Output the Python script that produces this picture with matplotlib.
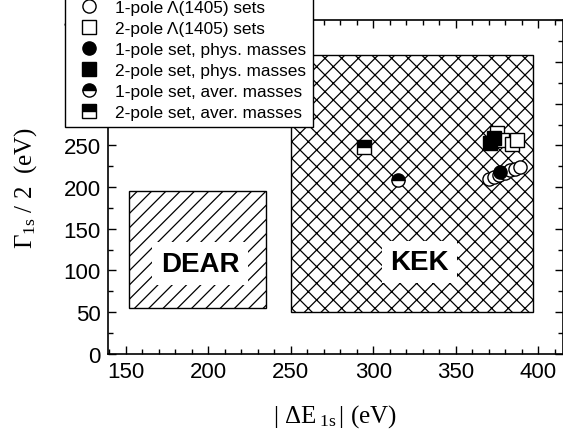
import matplotlib
matplotlib.use("Agg")
import matplotlib.pyplot as plt
from matplotlib.patches import Rectangle
from matplotlib.lines import Line2D
from matplotlib.backend_bases import GraphicsContextBase

plt.rcParams['font.family'] = ['Liberation Sans', 'DejaVu Sans']
plt.rcParams['mathtext.fontset'] = 'custom'
plt.rcParams['mathtext.rm'] = 'Liberation Serif'
plt.rcParams['mathtext.it'] = 'Liberation Serif:italic'
plt.rcParams['hatch.linewidth'] = 0.9

# slightly denser single-direction hatch for the DEAR box
_orig_hatch = GraphicsContextBase.get_hatch_path
def _hatch_path(self, density=6.0):
    if self.get_hatch() == '//':
        density = 7.6
    return _orig_hatch(self, density)
GraphicsContextBase.get_hatch_path = _hatch_path

# Experimental regions (x0, x1, y0, y1)
dear_box = [152, 235, 55, 195]
kek_box = [250, 397, 50, 358]

# Data points
onepole_open_x = [370, 373, 376, 380, 383, 386, 389]
onepole_open_y = [210, 212, 214, 217, 220, 222, 224]
twopole_open_x = [375, 378, 384, 387]
twopole_open_y = [265, 256, 252, 257]
onepole_phys_x = [377]
onepole_phys_y = [218]
twopole_phys_x = [371, 373]
twopole_phys_y = [253, 259]
onepole_aver_x = [315]
onepole_aver_y = [208]
twopole_aver_x = [294.5]
twopole_aver_y = [248]

legend_labels = ["1-pole \u039b(1405) sets", "2-pole \u039b(1405) sets",
                 "1-pole set, phys. masses", "2-pole set, phys. masses",
                 "1-pole set, aver. masses", "2-pole set, aver. masses"]

fig = plt.figure(figsize=(5.63, 4.35), dpi=100)
ax = fig.add_axes([0.1913, 0.1846, 0.8087, 0.766])

ax.add_patch(Rectangle((dear_box[0], dear_box[2]), dear_box[1]-dear_box[0], dear_box[3]-dear_box[2],
                       facecolor='white', edgecolor='black', hatch='//', lw=1.0, zorder=1))
ax.add_patch(Rectangle((kek_box[0], kek_box[2]), kek_box[1]-kek_box[0], kek_box[3]-kek_box[2],
                       facecolor='white', edgecolor='black', hatch='xx', lw=1.0, zorder=1))

bbox = dict(facecolor='white', edgecolor='none', pad=6)
ax.text(195, 108, "DEAR", fontsize=20, fontweight='bold', ha='center', va='center', bbox=bbox, zorder=2)
ax.text(328, 110, "KEK", fontsize=20, fontweight='bold', ha='center', va='center', bbox=bbox, zorder=2)

ms = 9.5
ax.plot(onepole_open_x, onepole_open_y, 'o', ms=ms, mfc='white', mec='black', mew=1.0, zorder=3)
ax.plot(twopole_open_x, twopole_open_y, 's', ms=ms, mfc='white', mec='black', mew=1.0, zorder=3)
ax.plot(twopole_phys_x, twopole_phys_y, 's', ms=ms, mfc='black', mec='black', mew=1.0, zorder=4)
ax.plot(onepole_phys_x, onepole_phys_y, 'o', ms=ms, mfc='black', mec='black', mew=1.0, zorder=4)
ax.plot(onepole_aver_x, onepole_aver_y, 'o', ms=ms, mfc='black', mfcalt='white', fillstyle='top',
        mec='black', mew=1.0, zorder=4)
ax.plot(twopole_aver_x, twopole_aver_y, 's', ms=ms, mfc='black', mfcalt='white', fillstyle='top',
        mec='black', mew=1.0, zorder=4)

ax.set_xlim(139, 415)
ax.set_ylim(0, 400)
ax.set_xticks([150, 200, 250, 300, 350, 400])
ax.set_xticks(range(140, 416, 10), minor=True)
ax.set_yticks(range(0, 401, 50))
ax.set_yticks(range(0, 401, 25), minor=True)
ax.tick_params(which='both', direction='in', top=True, right=True, labelsize=16, width=1.0)
ax.tick_params(which='major', length=6, pad=5)
ax.tick_params(which='minor', length=3.5)
for s in ax.spines.values():
    s.set_linewidth(1.2)

ax.set_xlabel(r'$|\ \Delta\mathrm{E}_{\ \mathrm{1s}}\,|$ (eV)', fontsize=18, family='Liberation Serif', labelpad=15)
ax.set_ylabel(r'$\Gamma_{\mathrm{1s}}\ $/ 2  (eV)', fontsize=18, family='Liberation Serif', labelpad=18)

handles = [
    Line2D([], [], ls='none', marker='o', ms=ms, mfc='white', mec='black'),
    Line2D([], [], ls='none', marker='s', ms=ms, mfc='white', mec='black'),
    Line2D([], [], ls='none', marker='o', ms=ms, mfc='black', mec='black'),
    Line2D([], [], ls='none', marker='s', ms=ms, mfc='black', mec='black'),
    Line2D([], [], ls='none', marker='o', ms=ms, mfc='black', mfcalt='white', fillstyle='top', mec='black'),
    Line2D([], [], ls='none', marker='s', ms=ms, mfc='black', mfcalt='white', fillstyle='top', mec='black'),
]
leg = ax.legend(handles, legend_labels, loc='lower left', bbox_to_anchor=(0.1155, 0.7057),
                bbox_transform=fig.transFigure, fontsize=12.4, frameon=True, fancybox=False,
                edgecolor='black', framealpha=1, handlelength=2.0, handletextpad=0.5,
                labelspacing=0.35, borderpad=0.4, borderaxespad=0)
leg.get_frame().set_linewidth(1.0)

fig.savefig('out.png', dpi=100)
